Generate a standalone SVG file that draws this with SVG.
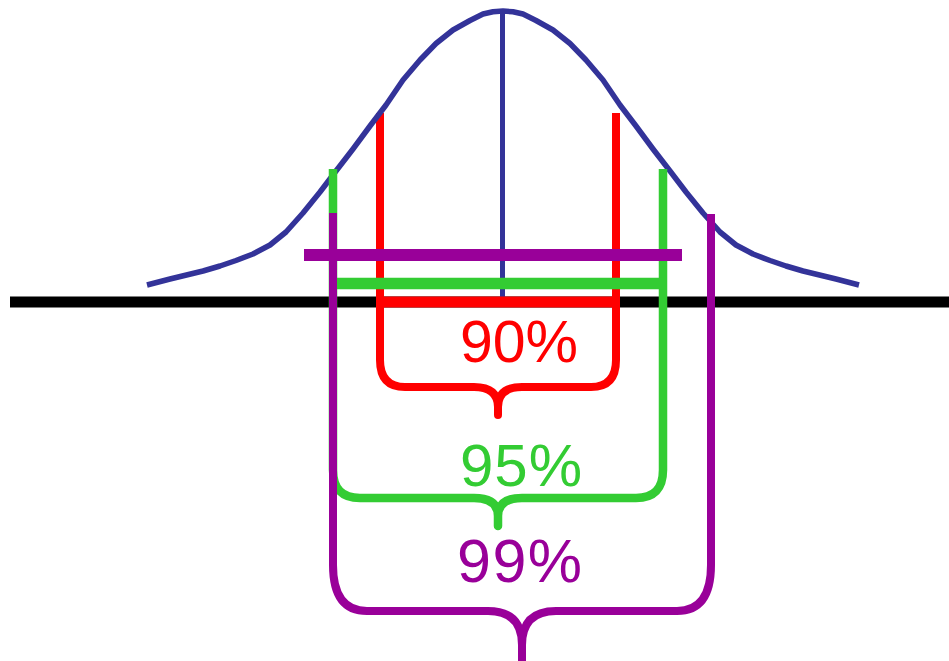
<svg xmlns="http://www.w3.org/2000/svg" width="949" height="661" viewBox="0 0 949 661">
<style>
.ln{fill:none;stroke-linecap:butt;stroke-linejoin:round}
.blue{stroke:#333399}
.red{stroke:#ff0000}
.green{stroke:#33cc33}
.purple{stroke:#990099}
.lbl{font-family:"Liberation Sans",Arial,sans-serif}
</style>
<rect width="949" height="661" fill="#ffffff"/>
<g id="axis">
<line class="ln" x1="10" y1="302" x2="949" y2="302" stroke="#000000" stroke-width="11"/>
</g>
<g id="red-brace">
<path class="ln red" stroke-width="8" d="M380,113 V360 Q380,387 405,387 H474 Q498,387 498,407 V415 V407 Q498,387 522,387 H591 Q616,387 616,360 V113"/>
</g>
<g id="curve">
<polyline class="ln blue" stroke-width="5.5" points="147,285 170,279 203,271 220,266 236,260.5 253,254 270,245 286,232 303,213 320,192 336,171 353,149 370,126 386,105 403,80 420,60 436,43.5 453,30 470,20.5 483,14 493,11.8 503,11 513,11.8 523,14 536,20.5 553,30 570,43.5 586,60 603,80 620,105 636,126 653,149 670,171 686,192 703,213 720,232 736,245 753,254 770,260.5 786,266 803,271 836,279 859,285"/>
<line class="ln blue" x1="502.5" y1="11" x2="502.5" y2="298" stroke-width="5"/>
</g>
<g id="red-bar">
<line class="ln red" x1="376" y1="302" x2="620" y2="302" stroke-width="11"/>
</g>
<g id="green-brace">
<path class="ln green" stroke-width="8.5" d="M333,169 V470 Q333,498 360,498 H474 Q498,498 498,516 V526 V516 Q498,498 522,498 H636 Q663,498 663,470 V169"/>
<line class="ln green" x1="333" y1="283.5" x2="663" y2="283.5" stroke-width="11.5"/>
</g>
<g id="purple-brace">
<path class="ln purple" stroke-width="8" d="M333,213 V565 Q333,611 367,611 H488 Q522,611 522,645 V668 V645 Q522,611 556,611 H677 Q711,611 711,565 V214"/>
<line class="ln purple" x1="304" y1="255" x2="682" y2="255" stroke-width="12"/>
</g>
<g id="labels" class="lbl">
<text x="460" y="362" font-size="59" fill="#ff0000" textLength="118" lengthAdjust="spacing">90%</text>
<text x="460" y="486" font-size="60" fill="#33cc33" textLength="122" lengthAdjust="spacing">95%</text>
<text x="457" y="582" font-size="61" fill="#990099" textLength="125" lengthAdjust="spacing">99%</text>
</g>
</svg>
